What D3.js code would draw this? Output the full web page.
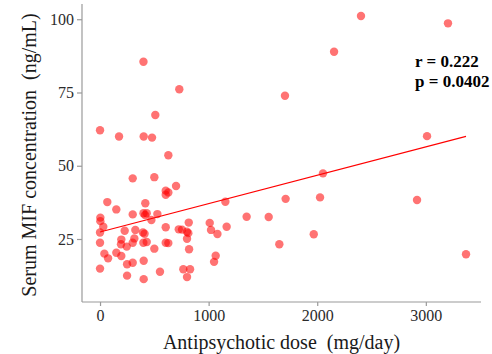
<!DOCTYPE html>
<html>
<head>
<meta charset="utf-8">
<script src="https://cdnjs.cloudflare.com/ajax/libs/d3/7.8.5/d3.min.js"></script>
<style>
  html, body { margin: 0; padding: 0; background: #fff; }
  svg text { font-family: "Liberation Serif", "DejaVu Serif", serif; }
</style>
</head>
<body>
<div id="chart"></div>
<script>
// Antipsychotic dose (mg/day) vs serum MIF (ng/mL)
var doses = [400, 730, 509, 0, 175, 402, 479, 629, 301, 500,
             605, 629, 605, 700, 67, 150, 417, 3, 3, 301,
             400, 415, 430, 528, 473, 30, 0, 227, 325, 605,
             817, 1010, 1022, 1081, 725, 755, 800, 813, 395, 410,
             0, 196, 193, 246, 301, 316, 399, 430, 500, 605,
             629, 801, 820, 40, 74, 150, 196, 249, 301, 402,
             1065, 1050, 0, 249, 552, 402, 767, 829, 801, 1166,
             1154, 1350, 2403, 3204, 2155, 1703, 3011, 2053, 1709, 2026,
             2919, 1553, 1651, 1968, 3370];
var mif = [85.5, 76.1, 67.3, 62.1, 60.0, 60.0, 59.6, 53.6, 45.7, 46.1,
           41.5, 40.9, 40.1, 43.1, 37.6, 35.1, 37.2, 32.3, 31.1, 33.4,
           33.8, 33.2, 33.8, 33.5, 31.5, 29.2, 27.2, 27.8, 28.1, 29.0,
           30.6, 30.5, 28.1, 26.7, 28.3, 28.2, 27.5, 27.0, 27.2, 26.8,
           23.7, 24.8, 23.2, 22.4, 23.7, 25.2, 23.7, 24.0, 21.7, 23.7,
           23.6, 25.1, 21.5, 20.0, 18.4, 20.3, 19.2, 16.4, 16.9, 17.6,
           19.3, 17.2, 14.9, 12.5, 13.8, 11.3, 14.7, 14.7, 12.0, 29.2,
           37.7, 32.6, 101.1, 98.6, 88.9, 73.9, 60.1, 47.4, 38.7, 39.2,
           38.3, 32.5, 23.2, 26.6, 19.8];
var xTicks = [0, 1000, 2000, 3000];
var yTicks = [25, 50, 75, 100];
var fitX = [0, 3370];          // range of the fitted line
var fitIntercept = 27.4, fitSlope = 0.00968;
var statLines = ['r = 0.222', 'p = 0.0402'];

var W = 492, H = 354;
var svg = d3.select('#chart').append('svg').attr('width', W).attr('height', H);

var pLeft = 82, pRight = 481, pTop = 4, pBottom = 302;
var x = d3.scaleLinear().domain([-166, 3508]).range([pLeft, pRight]);
var y = d3.scaleLinear().domain([3.5, 105.2]).range([pBottom, pTop]);

var axisCol = '#9a9a9a';

var gx = svg.append('g').attr('transform', 'translate(0,' + pBottom + ')')
    .call(d3.axisBottom(x).tickValues(xTicks).tickSize(4).tickPadding(4).tickFormat(d3.format('d')));
var gy = svg.append('g').attr('transform', 'translate(' + pLeft + ',0)')
    .call(d3.axisLeft(y).tickValues(yTicks).tickSize(5).tickPadding(3));
[gx, gy].forEach(function(g){
    g.select('.domain').attr('stroke', axisCol).attr('stroke-width', 1.2);
    g.selectAll('.tick line').attr('stroke', axisCol).attr('stroke-width', 1.2);
    g.selectAll('.tick text').attr('fill', '#2b2b2b').attr('font-size', 16)
        .style('font-family', '"Liberation Serif", serif');
});
// domain lines only span the panel (no outer ticks)
gx.select('.domain').attr('d', 'M' + pLeft + ',0H' + pRight);
gy.select('.domain').attr('d', 'M0,' + pTop + 'V' + pBottom);

// points
svg.append('g').selectAll('circle').data(doses).join('circle')
    .attr('cx', function(d){ return x(d); })
    .attr('cy', function(d, i){ return y(mif[i]); })
    .attr('r', 4.2)
    .attr('fill', '#ff0000')
    .attr('fill-opacity', 0.55);

// fitted line
svg.append('line')
    .attr('x1', x(fitX[0])).attr('y1', y(fitIntercept + fitSlope * fitX[0]))
    .attr('x2', x(fitX[1])).attr('y2', y(fitIntercept + fitSlope * fitX[1]))
    .attr('stroke', '#ff0000').attr('stroke-width', 1.1);

// stats annotation
svg.append('g').selectAll('text').data(statLines).join('text')
    .attr('x', 415).attr('y', function(d, i){ return 67 + i * 19.5; })
    .attr('font-size', 17).attr('font-weight', 'bold').attr('fill', '#000')
    .text(function(d){ return d; });

// axis titles
svg.append('text')
    .attr('x', (pLeft + pRight) / 2).attr('y', 349)
    .attr('text-anchor', 'middle').attr('font-size', 20).attr('fill', '#1a1a1a')
    .attr('xml:space', 'preserve')
    .text('Antipsychotic dose  (mg/day)');
svg.append('text')
    .attr('transform', 'translate(36,' + ((pTop + pBottom) / 2 + 2) + ') rotate(-90)')
    .attr('text-anchor', 'middle').attr('font-size', 20).attr('fill', '#1a1a1a')
    .attr('xml:space', 'preserve')
    .text('Serum MIF concentration  (ng/mL)');
</script>
</body>
</html>
